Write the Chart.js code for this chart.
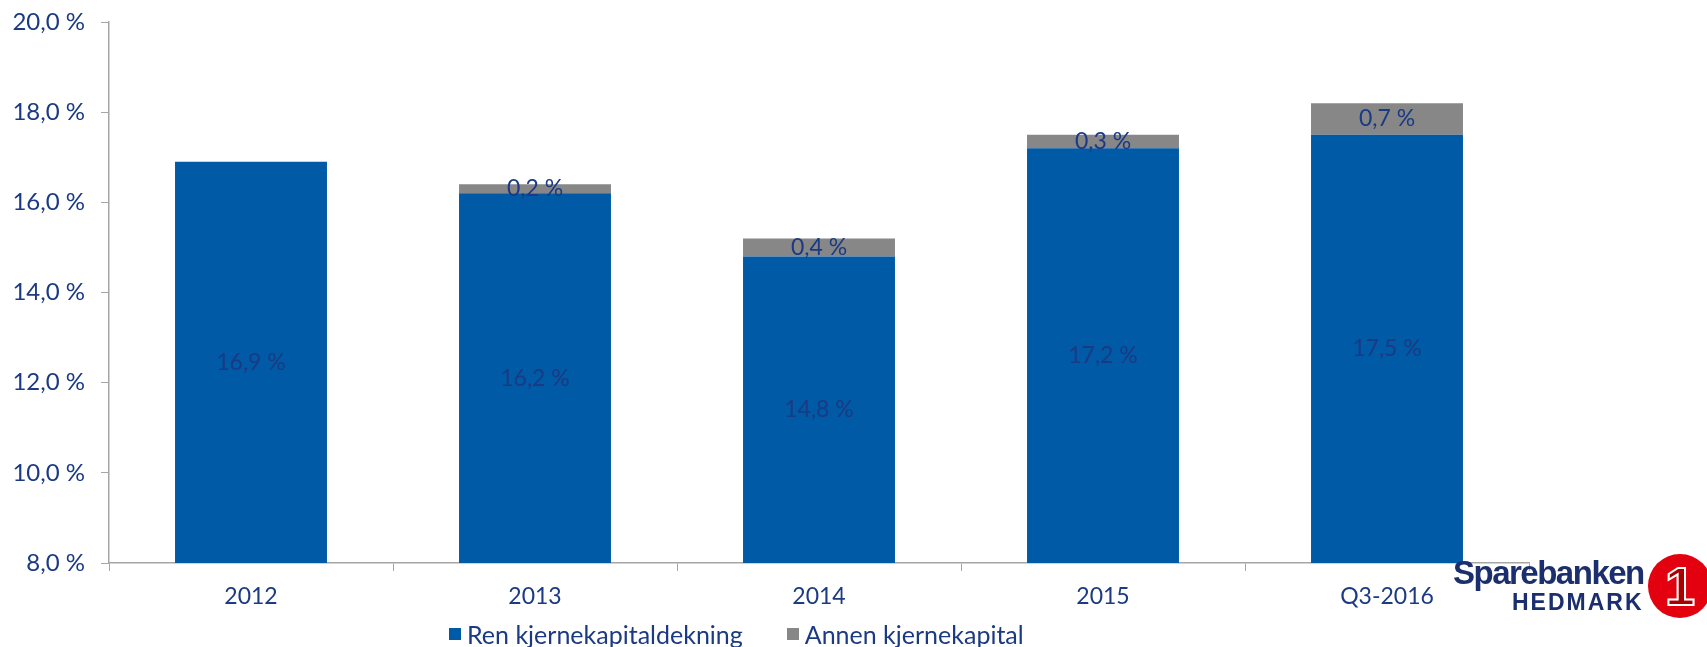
<!DOCTYPE html>
<html>
<head>
<meta charset="utf-8">
<title>Kjernekapitaldekning</title>
<script src="https://cdn.jsdelivr.net/npm/chart.js@4.4.0/dist/chart.umd.min.js"></script>
<style>
    html, body { margin: 0; padding: 0; background: #fff; }
    #wrap { position: relative; width: 1707px; height: 647px; overflow: hidden; font-family: Lato, 'Liberation Sans', sans-serif; }
    #chart { position: absolute; left: 0; top: 0; }
    #legend { position: absolute; left: 449px; top: 620px; display: flex; align-items: center; color: #1A3A84; font-size: 25px; line-height: 28px; }
    #legend .item { display: flex; align-items: center; margin-right: 44px; }
    #legend .box { width: 12px; height: 12px; margin-right: 6px; }
    #logo { position: absolute; left: 1450px; top: 554px; width: 260px; height: 80px; }
    #logo .name { position: absolute; left: 3px; top: 0; font-family: 'Liberation Sans', sans-serif; font-weight: bold; font-size: 33px; letter-spacing: -1.5px; color: #1B2F6E; }
    #logo .sub { position: absolute; left: 62px; top: 35px; font-family: 'Liberation Sans', sans-serif; font-weight: bold; font-size: 23px; letter-spacing: 2px; color: #1B2F6E; }
    #logo .ring { position: absolute; left: 198px; top: 0; width: 64px; height: 64px; border-radius: 50%; background: #E3000F;
                  color: #A80000; font-family: 'Liberation Sans', sans-serif; font-weight: bold; font-size: 54px; line-height: 64px; text-align: center;
                  -webkit-text-stroke: 2px #fff; }
</style>
</head>
<body>
<div id="wrap">
    <canvas id="chart" width="1707" height="647"></canvas>
    <div id="legend"></div>
    <div id="logo">
        <div class="name">Sparebanken</div>
        <div class="sub">HEDMARK</div>
        <div class="ring">1</div>
    </div>
</div>
<script>
// Data
const kategorier = ['2012', '2013', '2014', '2015', 'Q3-2016'];
const renKjernekapital = [16.9, 16.2, 14.8, 17.2, 17.5];
const annenKjernekapital = [0, 0.2, 0.4, 0.3, 0.7];
const serieNavn = ['Ren kjernekapitaldekning', 'Annen kjernekapital'];
const serieFarger = ['#005AA5', '#878787'];
const yMin = 8;
const yMax = 20;
const yStep = 2;

const tekstFarge = '#1A3A84';
const fontFamilie = "Lato, 'Liberation Sans', sans-serif";
const aksefarge = '#A6A6A6';

function formatProsent(v) {
    return v.toFixed(1).replace('.', ',') + ' %';
}

// Verdier midt i hver stolpe (synlig del)
const etiketterPlugin = {
    id: 'etiketter',
    afterDatasetsDraw(chart) {
        const ctx = chart.ctx;
        const bunn = chart.chartArea.bottom;
        ctx.save();
        ctx.font = '23px ' + fontFamilie;
        ctx.fillStyle = tekstFarge;
        ctx.textAlign = 'center';
        ctx.textBaseline = 'middle';
        chart.data.datasets.forEach((ds, i) => {
            const meta = chart.getDatasetMeta(i);
            meta.data.forEach((bar, j) => {
                const v = ds.data[j];
                if (!v) return;
                const base = Math.min(bar.base, bunn);
                ctx.fillText(formatProsent(v), bar.x, (bar.y + base) / 2);
            });
        });
        ctx.restore();
    }
};

const ctx = document.getElementById('chart').getContext('2d');
const chart = new Chart(ctx, {
    type: 'bar',
    data: {
        labels: kategorier,
        datasets: [
            { label: serieNavn[0], data: renKjernekapital, backgroundColor: serieFarger[0], barPercentage: 0.535, categoryPercentage: 1 },
            { label: serieNavn[1], data: annenKjernekapital, backgroundColor: serieFarger[1], barPercentage: 0.535, categoryPercentage: 1 }
        ]
    },
    options: {
        responsive: false,
        animation: false,
        layout: { padding: { left: 0, right: 178, top: 22, bottom: 0 } },
        plugins: {
            legend: { display: false },
            tooltip: { enabled: false }
        },
        scales: {
            x: {
                stacked: true,
                grid: { drawOnChartArea: false, drawTicks: true, tickLength: 8, color: aksefarge, offset: true },
                border: { color: aksefarge, width: 1.5 },
                ticks: { color: tekstFarge, font: { family: fontFamilie, size: 23 }, padding: 12 },
                afterFit(scale) { scale.height = 84; }
            },
            y: {
                stacked: true,
                min: yMin,
                max: yMax,
                grid: { drawOnChartArea: false, drawTicks: true, tickLength: 8, color: aksefarge },
                border: { color: aksefarge, width: 1.5 },
                ticks: {
                    stepSize: yStep,
                    color: tekstFarge,
                    font: { family: fontFamilie, size: 24 },
                    padding: 16,
                    callback: v => formatProsent(v)
                },
                afterFit(scale) {
                    scale.width = 109;
                    scale.paddingTop = 0;
                    scale.paddingBottom = 0;
                }
            }
        }
    },
    plugins: [etiketterPlugin]
});

// Legende
const legend = document.getElementById('legend');
serieNavn.forEach((navn, i) => {
    const item = document.createElement('div');
    item.className = 'item';
    const box = document.createElement('span');
    box.className = 'box';
    box.style.background = serieFarger[i];
    const txt = document.createElement('span');
    txt.textContent = navn;
    item.appendChild(box);
    item.appendChild(txt);
    legend.appendChild(item);
});
</script>
</body>
</html>
